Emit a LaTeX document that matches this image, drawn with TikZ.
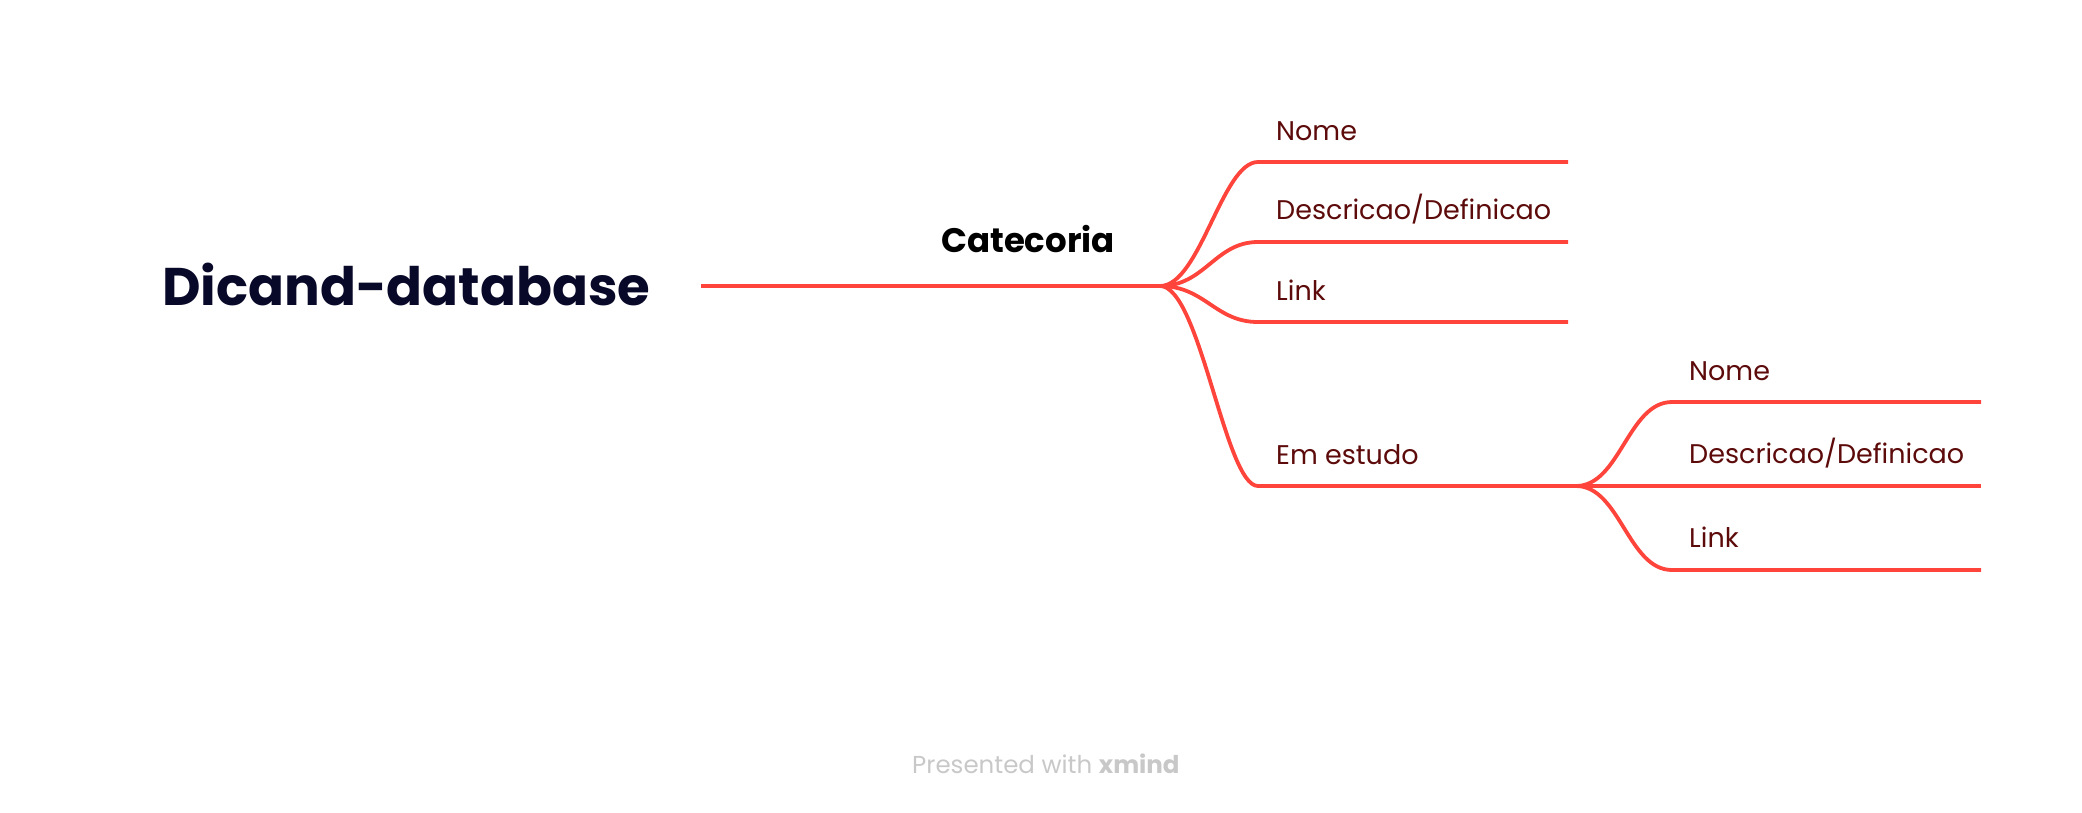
\documentclass[tikz,border=0pt]{standalone}
\usepackage{fontspec}
\setmainfont{Poppins}
\definecolor{branchred}{RGB}{255,68,60}
\definecolor{labelred}{RGB}{92,10,10}
\definecolor{titlenavy}{RGB}{8,8,40}
\definecolor{footgray}{RGB}{200,200,200}
\begin{document}
\begin{tikzpicture}[x=1pt,y=-1pt,
  branch/.style={draw=branchred,line width=3.8pt},
  leaflabel/.style={anchor=base west,inner sep=0pt,text=labelred,font=\fontsize{27}{30}\selectfont},
  toplabel/.style={anchor=base west,inner sep=0pt,text=black,font=\fontsize{34}{38}\selectfont\bfseries},
  titlelabel/.style={anchor=base west,inner sep=0pt,text=titlenavy,font=\fontsize{53}{60}\selectfont\bfseries},
  footer/.style={anchor=base west,inner sep=0pt,text=footgray,font=\fontsize{24.5}{28}\selectfont}]
\useasboundingbox (0,0) rectangle (2082,812);
% title
\node[titlelabel] (title) at (162,305) {Dicand-database};
% main branch
\coordinate (mainstart) at (701,286);
\coordinate (fork) at (1160,286);
\node[toplabel] (cat) at (941,252) {Catecoria};
\draw[branch] (mainstart) -- (fork);
% first level leaves
\coordinate (nomeA) at (1258,162);
\coordinate (nomeAend) at (1568,162);
\coordinate (descA) at (1258,242);
\coordinate (descAend) at (1568,242);
\coordinate (linkA) at (1258,322);
\coordinate (linkAend) at (1568,322);
\coordinate (estudo) at (1258,486);
\coordinate (fork2) at (1576,486);
\node[leaflabel] (lnomeA) at (1276,140) {Nome};
\node[leaflabel] (ldescA) at (1276,219) {Descricao/Definicao};
\node[leaflabel] (llinkA) at (1276,300) {Link};
\node[leaflabel] (lestudo) at (1276,464) {Em estudo};
\draw[branch] (fork) .. controls (1200,286) and (1222,162) .. (nomeA) -- (nomeAend);
\draw[branch] (fork) .. controls (1205,286) and (1215,242) .. (descA) -- (descAend);
\draw[branch] (fork) .. controls (1205,286) and (1215,322) .. (linkA) -- (linkAend);
\draw[branch] (fork) .. controls (1200,286) and (1225,486) .. (estudo) -- (fork2);
% second level leaves
\coordinate (nomeB) at (1672,402);
\coordinate (nomeBend) at (1981,402);
\coordinate (descB) at (1672,486);
\coordinate (descBend) at (1981,486);
\coordinate (linkB) at (1672,570);
\coordinate (linkBend) at (1981,570);
\node[leaflabel] (lnomeB) at (1689,380) {Nome};
\node[leaflabel] (ldescB) at (1689,463) {Descricao/Definicao};
\node[leaflabel] (llinkB) at (1689,547) {Link};
\draw[branch] (fork2) .. controls (1620,486) and (1628,402) .. (nomeB) -- (nomeBend);
\draw[branch] (fork2) -- (descB) -- (descBend);
\draw[branch] (fork2) .. controls (1620,486) and (1628,570) .. (linkB) -- (linkBend);
% footer
\node[footer] (foot) at (912,773) {Presented with \textbf{xmind}};
\end{tikzpicture}
\end{document}
